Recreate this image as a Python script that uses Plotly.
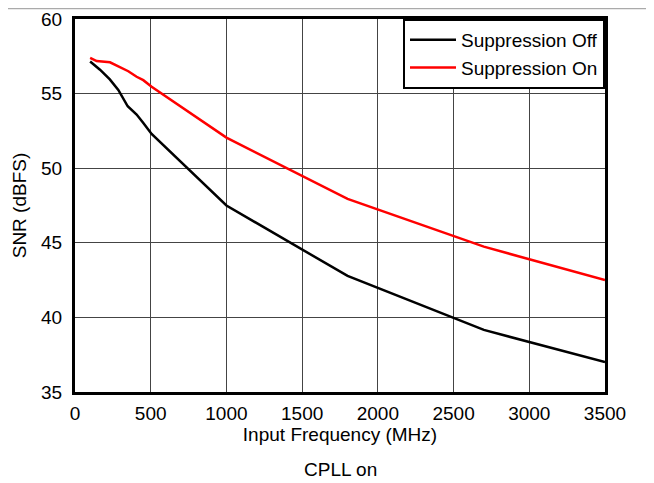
import plotly.graph_objects as go

freq_off = [100, 165, 230, 286, 348, 407, 450, 506, 1000, 1800, 2700, 3500]
snr_off = [57.15, 56.6, 55.95, 55.25, 54.15, 53.6, 53.05, 52.3, 47.5, 42.78, 39.16, 37.0]

freq_on = [100, 143, 231, 275, 352, 407, 451, 506, 1000, 1800, 2700, 3500]
snr_on = [57.4, 57.18, 57.1, 56.87, 56.5, 56.13, 55.9, 55.46, 52.05, 47.94, 44.74, 42.5]

x_ticks = [0, 500, 1000, 1500, 2000, 2500, 3000, 3500]
y_ticks = [35, 40, 45, 50, 55, 60]

FONT = "Liberation Sans, Arial, sans-serif"

fig = go.Figure()
fig.add_trace(go.Scatter(x=freq_off, y=snr_off, mode="lines", name="Suppression Off",
                         line=dict(color="black", width=2.5)))
fig.add_trace(go.Scatter(x=freq_on, y=snr_on, mode="lines", name="Suppression On",
                         line=dict(color="#ff0000", width=2.5)))

# page has an 8px body margin, so the figure is sized to fit the 654x483 window
W, H = 646, 475
L, T = 67, 11
R, B = W - 597, H - 384
pw, ph = W - L - R, H - T - B

fig.update_layout(
    width=W, height=H,
    margin=dict(l=L, r=R, t=T, b=B, autoexpand=False),
    paper_bgcolor="white", plot_bgcolor="white",
    font=dict(family=FONT, size=19, color="black"),
    showlegend=True,
    legend=dict(x=1, y=1, xanchor="right", yanchor="top",
                bgcolor="white", bordercolor="black", borderwidth=2,
                font=dict(size=19), tracegroupgap=0, itemwidth=46),
    xaxis=dict(range=[0, 3500], tickvals=x_ticks, ticktext=[str(v) for v in x_ticks],
               showgrid=True, gridcolor="#444", gridwidth=1,
               showline=True, linecolor="black", linewidth=3, mirror=True,
               ticks="", ticklabelstandoff=2, zeroline=False,
               title=dict(text="Input Frequency (MHz)", standoff=0, font=dict(size=19))),
    yaxis=dict(range=[35, 60], tickvals=y_ticks, ticktext=[str(v) for v in y_ticks],
               showgrid=True, gridcolor="#444", gridwidth=1,
               showline=True, linecolor="black", linewidth=3, mirror=True,
               ticks="", ticklabelstandoff=6, zeroline=False,
               title=dict(text="SNR (dBFS)", standoff=10, font=dict(size=19))),
    annotations=[dict(text="CPLL on", xref="paper", yref="paper",
                      x=0.5, y=-78 / ph, xanchor="center", yanchor="middle",
                      showarrow=False, font=dict(size=19))],
    shapes=[
        dict(type="line", xref="paper", yref="paper",
             x0=-L / pw, x1=(644 - L) / pw, y0=(ph + T - 0.5) / ph, y1=(ph + T - 0.5) / ph,
             line=dict(color="#aaa", width=1.5)),
        dict(type="line", xref="paper", yref="paper",
             x0=(644 - L) / pw, x1=(644 - L) / pw, y0=-B / ph, y1=(ph + T) / ph,
             line=dict(color="#777", width=1.5)),
    ],
)

fig.write_html("out.html")
